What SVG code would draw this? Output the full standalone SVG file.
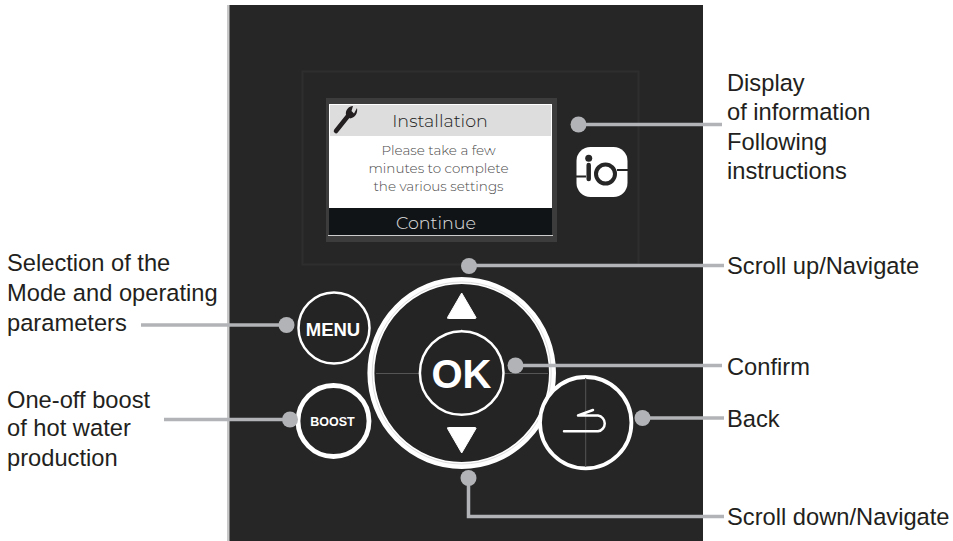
<svg xmlns="http://www.w3.org/2000/svg" width="953" height="541" viewBox="0 0 953 541">
<style>
.lbl{font-family:"Liberation Sans",Arial,sans-serif;font-size:23.700px;fill:#231f20}
.scr{font-family:Montserrat,"Open Sans","Liberation Sans",sans-serif;text-anchor:middle;font-weight:300}
.ln{fill:none;stroke:#b1b3b6;stroke-width:3.5}
.dot{fill:#b1b3b6}
.ring{fill:#242424;stroke:#fff}
.hair{stroke:#555;stroke-width:1;fill:none}
</style>
<rect width="953" height="541" fill="#fff"/>
<g id="panel">
<rect x="227" y="5" width="3" height="536" fill="#c8c8c8"/>
<rect x="229.500" y="5" width="473.500" height="536" fill="#262626"/>
<rect x="302.500" y="71.500" width="336" height="193" fill="none" stroke="#2e2e2e" stroke-width="2"/>
</g>
<g id="display">
<rect x="326" y="98" width="231" height="144" fill="#3c3c3c"/>
<rect x="329" y="104" width="223" height="132" fill="#fff"/>
<rect x="330" y="105" width="221" height="31" fill="#dcdddc"/>
<rect x="329" y="208" width="223" height="27" fill="#111417"/>
<rect x="328" y="235" width="225" height="1" fill="#ccc"/>
<path d="M336 131L348 116" stroke="#231f20" stroke-width="4.500" stroke-linecap="round"/>
<path d="M346 115C345 110 349 106 353 106L351.500 111L354 113.500L357 108C358 113 355 118 350 118.500Z" fill="#231f20"/>
<text class="scr" x="440" y="127" font-size="17.500" fill="#222">Installation</text>
<text class="scr" x="438.500" y="155" font-size="13.500" fill="#4a4a4a">Please take a few</text>
<text class="scr" x="438.500" y="173" font-size="13.500" fill="#4a4a4a">minutes to complete</text>
<text class="scr" x="438.500" y="191" font-size="13.500" fill="#4a4a4a">the various settings</text>
<text class="scr" x="436" y="229" font-size="17.500" fill="#e0e0e0">Continue</text>
</g>
<g id="io-logo">
<rect x="576.500" y="147" width="51" height="50" rx="14" fill="#fff"/>
<path d="M576 176.500H586M617 170H628" stroke="#262626" stroke-width="1.800" fill="none"/>
<path d="M588.700 165V179" stroke="#262626" stroke-width="4.500" stroke-linecap="round" fill="none"/>
<circle cx="588.700" cy="158.300" r="3.500" fill="#262626"/>
<circle cx="605.500" cy="174" r="9.500" fill="none" stroke="#262626" stroke-width="4"/>
</g>
<g id="btn-menu">
<circle class="ring" cx="334" cy="328" r="35.500" stroke-width="2.500"/>
<text x="333" y="336" text-anchor="middle" font-family="Liberation Sans,Arial,sans-serif" font-weight="700" font-size="18.500" fill="#fff">MENU</text>
</g>
<g id="btn-boost">
<circle class="ring" cx="333.500" cy="421" r="35.500" stroke-width="4.800"/>
<text x="332.500" y="425.500" text-anchor="middle" font-family="Liberation Sans,Arial,sans-serif" font-weight="700" font-size="12.500" fill="#fff">BOOST</text>
</g>
<g id="btn-nav">
<ellipse class="ring" cx="461.700" cy="373" rx="90.800" ry="92.500" stroke-width="7"/>
<ellipse cx="461.700" cy="373" rx="89.500" ry="91" fill="none" stroke="#ddd" stroke-width="1"/>
<path class="hair" d="M376 373.500H419M505 373.500H548M461.700 329V333M461.700 412V416"/>
<path d="M461.700 293L476 317.500Q476 318.500 475 318.500H448.500Q447 318.500 447.500 317.500Z" fill="#fff" stroke="#fff" stroke-linejoin="round"/>
<path d="M461.700 453L476 428.500Q476 427.500 475 427.500H448.500Q447 427.500 447.500 428.500Z" fill="#fff" stroke="#fff" stroke-linejoin="round"/>
</g>
<g id="btn-ok">
<circle class="ring" cx="461.700" cy="373" r="41.800" stroke-width="2.500"/>
<text x="461.500" y="387.500" text-anchor="middle" font-family="Liberation Sans,Arial,sans-serif" font-weight="700" font-size="40" fill="#fff">OK</text>
</g>
<g id="btn-back">
<circle class="ring" cx="585.700" cy="422.700" r="45.700" stroke-width="3.800"/>
<path class="hair" d="M585.700 378V467"/>
<path d="M564 431.300H598A8 8 0 0 0 598 415.500H578L593 410" fill="none" stroke="#fff" stroke-width="2.500" stroke-linecap="round" stroke-linejoin="round"/>
</g>
<g id="connectors">
<path class="ln" d="M577 124.500H722"/>
<path class="ln" d="M469 265.500H724"/>
<path class="ln" d="M515 365.500H722"/>
<path class="ln" d="M642 418H724"/>
<path class="ln" d="M468.500 478V516.500H724"/>
<path class="ln" d="M141 325H287" stroke-width="4"/>
<path class="ln" d="M164 419.500H290"/>
<circle class="dot" cx="578.500" cy="124.500" r="8"/>
<circle class="dot" cx="469" cy="266" r="8"/>
<circle class="dot" cx="515.500" cy="365.500" r="8"/>
<circle class="dot" cx="642.500" cy="418" r="8"/>
<circle class="dot" cx="468.500" cy="478" r="8"/>
<circle class="dot" cx="286.500" cy="325" r="8"/>
<circle class="dot" cx="290" cy="419.500" r="8"/>
</g>
<g id="labels">
<text class="lbl" x="727" y="91">Display</text>
<text class="lbl" x="727" y="120">of information</text>
<text class="lbl" x="727" y="150">Following</text>
<text class="lbl" x="727" y="179">instructions</text>
<text class="lbl" x="727" y="274">Scroll up/Navigate</text>
<text class="lbl" x="727" y="375">Confirm</text>
<text class="lbl" x="727" y="427">Back</text>
<text class="lbl" x="727" y="525">Scroll down/Navigate</text>
<text class="lbl" x="7" y="271">Selection of the</text>
<text class="lbl" x="7" y="301">Mode and operating</text>
<text class="lbl" x="7" y="331">parameters</text>
<text class="lbl" x="7" y="408">One-off boost</text>
<text class="lbl" x="7" y="436">of hot water</text>
<text class="lbl" x="7" y="466">production</text>
</g>
</svg>
